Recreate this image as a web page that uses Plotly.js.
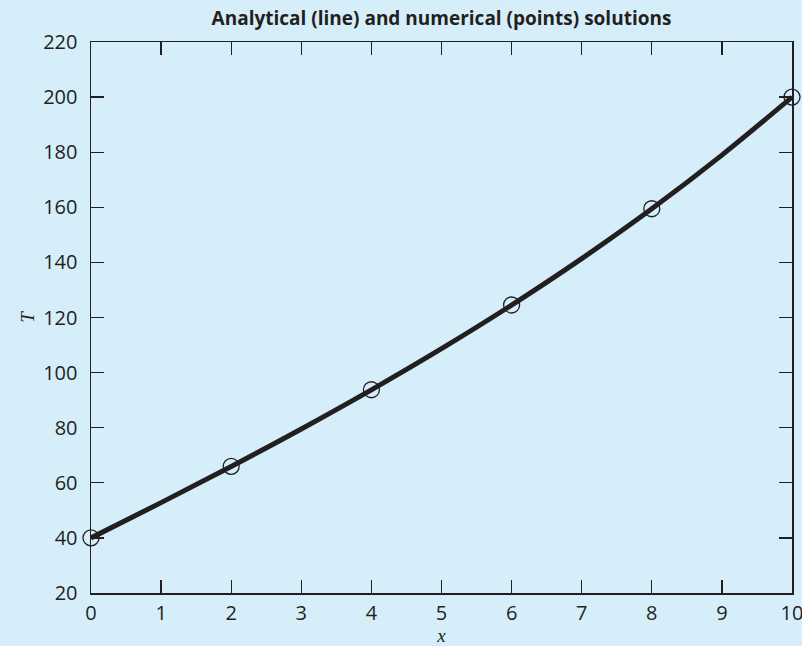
<!DOCTYPE html>
<html>
<head>
<meta charset="utf-8">
<script src="https://cdn.plot.ly/plotly-3.0.1.min.js"></script>
<style>html,body{margin:0;padding:0;background:#d6eefa;}#chart{width:802px;height:646px;}</style>
</head>
<body>
<div id="chart"></div>
<script>
// Analytical solution (line)
const lineX = [0, 1, 2, 3, 4, 5, 6, 7, 8, 9, 10];
const lineT = [40, 52.81, 65.95, 79.55, 93.75, 108.68, 124.50, 141.37, 159.45, 178.94, 200];
// Numerical solution (points)
const pointX = [0, 2, 4, 6, 8, 10];
const pointT = [40, 65.97, 93.78, 124.54, 159.48, 200];
const xTicks = [0, 1, 2, 3, 4, 5, 6, 7, 8, 9, 10];
const yTicks = [20, 40, 60, 80, 100, 120, 140, 160, 180, 200, 220];

const bg = '#d6eefa';
const ink = '#231f20';
const sans = '"Open Sans", Lato, sans-serif';

const traces = [
  {x: lineX, y: lineT, mode: 'lines', line: {color: ink, width: 5, shape: 'spline'}, hoverinfo: 'skip'},
  {x: pointX, y: pointT, mode: 'markers', marker: {symbol: 'circle-open', size: 16, color: ink, line: {width: 1.3, color: ink}}, cliponaxis: false}
];

const axisCommon = {
  showgrid: false, zeroline: false, showline: true, linecolor: ink, linewidth: 1.5,
  mirror: 'ticks', ticks: 'inside', ticklen: 13, tickwidth: 1.3, tickcolor: ink,
  ticklabeloverflow: 'allow',
  tickfont: {family: sans, size: 20, color: ink}
};

const layout = {
  width: 802, height: 646,
  paper_bgcolor: bg, plot_bgcolor: bg,
  margin: {l: 91, r: 10, t: 42, b: 53},
  showlegend: false,
  title: {text: 'Analytical (line) and numerical (points) solutions', xref: 'paper', x: 0.5, xanchor: 'center',
          yref: 'container', y: 0.972, yanchor: 'middle',
          font: {family: sans, size: 19, weight: 'bold', color: ink}},
  xaxis: Object.assign({}, axisCommon, {range: [0, 10], tickvals: xTicks, ticktext: xTicks.map(String),
          ticklabelstandoff: 1,
          title: {text: 'x', standoff: 0, font: {family: '"Liberation Serif", serif', size: 19, style: 'italic', color: ink}}}),
  yaxis: Object.assign({}, axisCommon, {range: [20, 220], tickvals: yTicks, ticktext: yTicks.map(String),
          ticklabelstandoff: 8,
          title: {text: 'T', standoff: 3, font: {family: '"Liberation Serif", serif', size: 19, style: 'italic', color: ink}}})
};

Plotly.newPlot('chart', traces, layout, {displayModeBar: false, staticPlot: true});
</script>
</body>
</html>
